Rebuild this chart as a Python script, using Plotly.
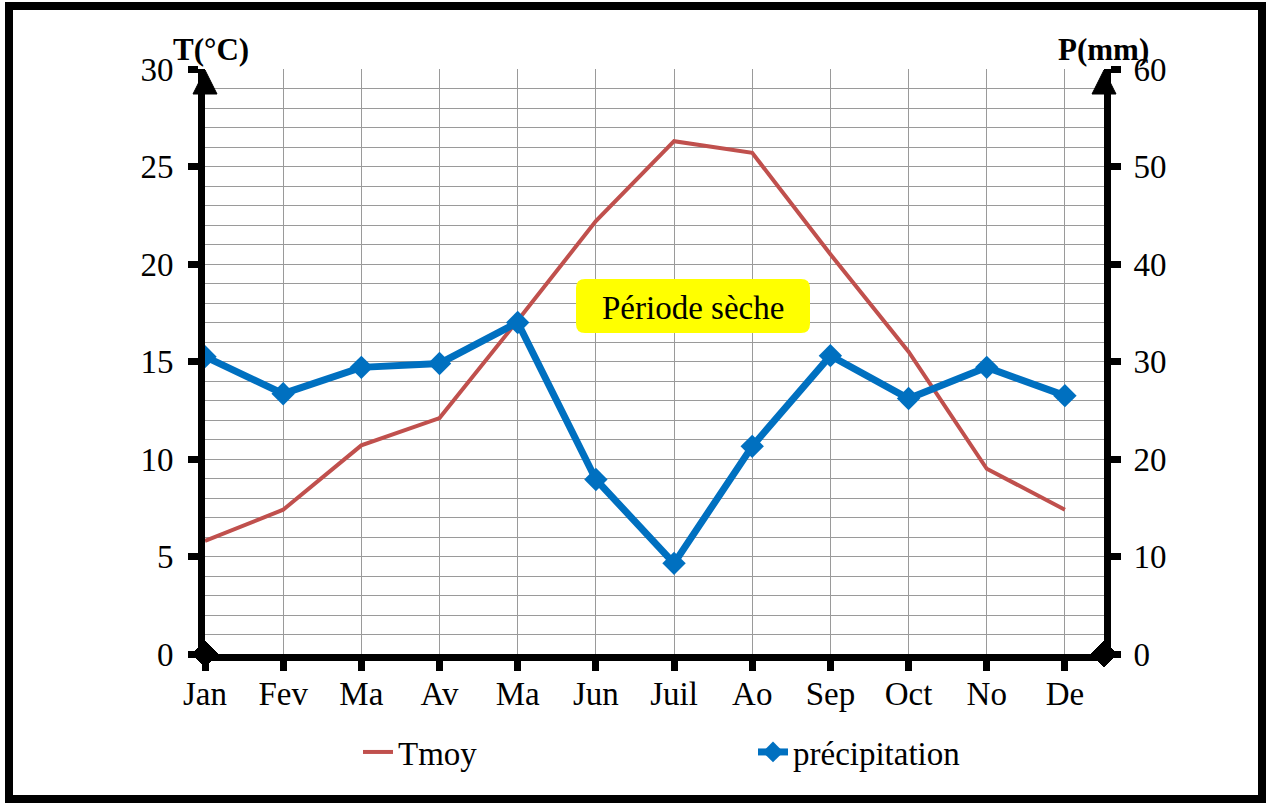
import plotly.graph_objects as go

months = ["Jan", "Fev", "Ma", "Av", "Ma", "Jun", "Juil", "Ao", "Sep", "Oct", "No", "De"]
tmoy = [5.8, 7.4, 10.7, 12.1, 17.1, 22.2, 26.3, 25.7, 20.5, 15.5, 9.5, 7.4]
precip = [30.5, 26.7, 29.4, 29.8, 34.0, 17.9, 9.3, 21.3, 30.6, 26.2, 29.4, 26.5]
xi = list(range(len(months)))

FONT = "Liberation Serif"
FS = 33
W, H = 1270, 803
L, R, T, B = 205, 1104, 69, 654
pw, ph = R - L, B - T

def px(x):
    return (x - L) / pw

def py(y):
    return (B - y) / ph

fig = go.Figure()
fig.add_trace(go.Scatter(x=xi, y=tmoy, name="Tmoy", mode="lines",
                         line=dict(color="#C0504D", width=4)))
fig.add_trace(go.Scatter(x=xi, y=precip, name="précipitation", yaxis="y2",
                         mode="lines+markers",
                         line=dict(color="#0070C0", width=7),
                         marker=dict(symbol="diamond", size=18, color="#0070C0")))

grid = "#9a9a9a"
tf = dict(family=FONT, size=FS, color="black")
fig.update_layout(
    width=W, height=H,
    margin=dict(l=L, r=W - R, t=T, b=H - B, pad=0),
    paper_bgcolor="white", plot_bgcolor="white",
    font=dict(family=FONT, size=FS, color="black"),
    showlegend=True,
    legend=dict(orientation="h", x=px(358), y=py(752), xanchor="left", yanchor="middle",
                entrywidth=350, entrywidthmode="pixels",
                font=tf, bgcolor="rgba(0,0,0,0)"),
    xaxis=dict(range=[0, 11.5], tickvals=xi, ticktext=months, showgrid=True,
               gridcolor=grid, gridwidth=1, zeroline=False,
               showline=True, linecolor="black", linewidth=7,
               ticks="outside", ticklen=10, tickwidth=7, tickcolor="black",
               ticklabelstandoff=-6, tickfont=tf),
    yaxis=dict(range=[0, 30], dtick=5, tick0=0, showgrid=True, gridcolor=grid, gridwidth=1,
               zeroline=False, showline=True, linecolor="black", linewidth=7,
               ticks="outside", ticklen=10, tickwidth=7, tickcolor="black",
               minor=dict(dtick=1, showgrid=True, gridcolor=grid, gridwidth=1, ticks=""),
               ticklabelstandoff=8, tickfont=tf),
    yaxis2=dict(range=[0, 60], dtick=10, tick0=0, overlaying="y", side="right",
                showgrid=False, zeroline=False, showline=True, linecolor="black", linewidth=7,
                ticks="outside", ticklen=10, tickwidth=7, tickcolor="black",
                ticklabelstandoff=6, tickfont=tf),
)

shapes = []
# outer frame
shapes.append(dict(type="rect", xref="paper", yref="paper",
                   x0=px(9), x1=px(1262), y0=py(799), y1=py(6),
                   line=dict(color="black", width=8), fillcolor="rgba(0,0,0,0)", layer="above"))
# arrow heads
for xc in (L, R):
    shapes.append(dict(type="path", xref="paper", yref="paper",
                       path=f"M {px(xc-12)} {py(94)} L {px(xc)} {py(70)} L {px(xc+12)} {py(94)} Z",
                       fillcolor="black", line=dict(color="black", width=1), layer="above"))
    # diamonds at base
    shapes.append(dict(type="path", xref="paper", yref="paper",
                       path=(f"M {px(xc-13)} {py(B)} L {px(xc)} {py(B-13)} "
                             f"L {px(xc+13)} {py(B)} L {px(xc)} {py(B+13)} Z"),
                       fillcolor="black", line=dict(color="black", width=1), layer="above"))
# yellow box (rounded)
bx0, bx1, by0, by1, r = 576, 810, 279, 333, 9
p = (f"M {px(bx0+r)} {py(by0)} L {px(bx1-r)} {py(by0)} "
     f"Q {px(bx1)} {py(by0)} {px(bx1)} {py(by0+r)} L {px(bx1)} {py(by1-r)} "
     f"Q {px(bx1)} {py(by1)} {px(bx1-r)} {py(by1)} L {px(bx0+r)} {py(by1)} "
     f"Q {px(bx0)} {py(by1)} {px(bx0)} {py(by1-r)} L {px(bx0)} {py(by0+r)} "
     f"Q {px(bx0)} {py(by0)} {px(bx0+r)} {py(by0)} Z")
shapes.append(dict(type="path", xref="paper", yref="paper", path=p,
                   fillcolor="#FFFF00", line=dict(color="#FFFF00", width=0), layer="above"))
fig.update_layout(shapes=shapes)

fig.add_annotation(x=px(693), y=py(308), xref="paper", yref="paper", text="Période sèche",
                   xanchor="center", yanchor="middle",
                   showarrow=False, font=dict(family=FONT, size=FS, color="black"))
fig.add_annotation(x=px(211), y=py(50), xref="paper", yref="paper", text="<b>T(°C)</b>",
                   xanchor="center", yanchor="middle",
                   showarrow=False, font=dict(family=FONT, size=31, color="black"))
fig.add_annotation(x=px(1103), y=py(50), xref="paper", yref="paper", text="<b>P(mm)</b>",
                   xanchor="center", yanchor="middle",
                   showarrow=False, font=dict(family=FONT, size=31, color="black"))

fig.write_html("out.html")
